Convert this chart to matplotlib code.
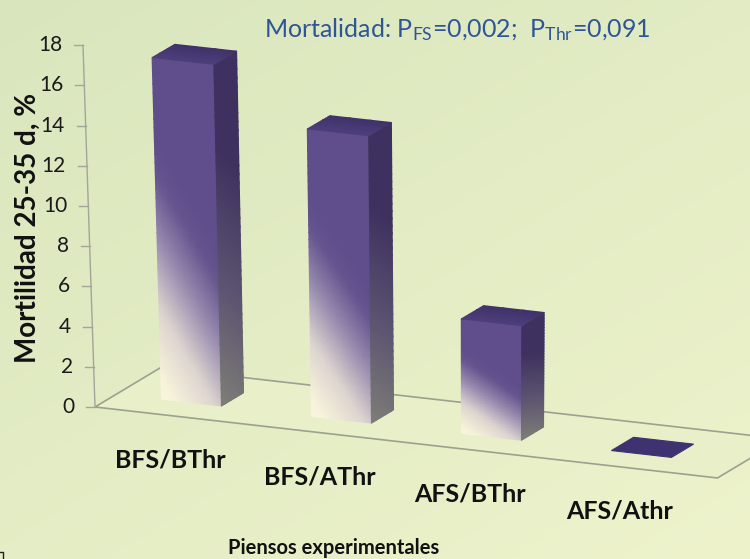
import numpy as np
import matplotlib
matplotlib.use("Agg")
import matplotlib.pyplot as plt
from matplotlib.colors import LinearSegmentedColormap, to_rgb
from matplotlib.patches import Polygon
from matplotlib.lines import Line2D

# ---- data -------------------------------------------------------------
categories = ["BFS/BThr", "BFS/AThr", "AFS/BThr", "AFS/Athr"]
mortality = [17.0, 14.3, 5.7, 0.0]
y_ticks = [0, 2, 4, 6, 8, 10, 12, 14, 16, 18]
y_tick_labels = [str(t) for t in y_ticks]
title_text = r"Mortalidad: P$\mathregular{_{FS}}$=0,002;  P$\mathregular{_{Thr}}$=0,091"
y_label = "Mortilidad 25-35 d, %"
x_label = "Piensos experimentales"

# ---- look -------------------------------------------------------------
plt.rcParams["font.family"] = ["Lato", "DejaVu Sans"]
W, H = 750, 559
fig = plt.figure(figsize=(W / 100, H / 100), dpi=100)
ax = fig.add_axes([0, 0, 1, 1])

# chart space: x in category units, y in value units
PX_CAT = 150.0      # pixels per category slot
PX_VAL = 20.1       # pixels per percentage point
X0, Y0 = 95.0, 407.0
xlim = (-X0 / PX_CAT, (W - X0) / PX_CAT)
ylim = (-(H - Y0) / PX_VAL, Y0 / PX_VAL)

DEPTH_X = 65.0 / PX_CAT     # floor depth, horizontal component
DEPTH_Y = 39.0 / PX_VAL     # floor depth, vertical component
SHEAR = 17.1 / PX_VAL       # floor falls towards the right
C_VP = 2.57                 # vanishing column for vertical convergence
KEY = 0.00173
FLOOR_C = 4.15
BAR_W = 0.4
BAR_D0, BAR_D1 = 0.33, 0.67


def proj(c, d, v):
    c = np.asarray(c, float)
    d = np.asarray(d, float)
    v = np.asarray(v, float)
    x = c + d * DEPTH_X
    y = v - SHEAR * c + d * DEPTH_Y
    x = x + (x - C_VP) * KEY * v
    return x, y


# background gradient
gx, gy = np.meshgrid(np.linspace(0, 1, 200), np.linspace(0, 1, 200))
c_tl = np.array(to_rgb("#d9e6bd"))
c_br = np.array(to_rgb("#eef3cc"))
tt = np.clip(0.55 * gy + 0.45 * gx, 0, 1)[..., None]
bg = c_tl * (1 - tt) + c_br * tt
ax.imshow(bg, extent=(xlim[0], xlim[1], ylim[0], ylim[1]), origin="upper",
          aspect="auto", zorder=0, interpolation="bilinear")

# floor outline
fc = np.array([0, FLOOR_C, FLOOR_C, 0])
fd = np.array([0, 0, 1, 1])
fx, fy = proj(fc, fd, np.zeros(4))
ax.add_patch(Polygon(np.column_stack([fx, fy]), closed=True, facecolor="#e9f0c9",
                     edgecolor="#9ca18f", lw=1.2, zorder=1))

# value axis
ax_x, ax_y = proj([0, 0], [0, 0], [0, y_ticks[-1]])
ax.add_line(Line2D(ax_x, ax_y, color="#a2a59a", lw=1.0, zorder=2))
for t, lab in zip(y_ticks, y_tick_labels):
    tx, ty = proj(0, 0, t)
    ax.add_line(Line2D([tx - 9 / PX_CAT, tx], [ty, ty], color="#a2a59a", lw=1.0, zorder=2))
    ax.text(tx - 21 / PX_CAT, ty, lab, ha="right", va="center", fontsize=15,
            color="#1a1a1a", zorder=3)

# bar colours
front_cmap = LinearSegmentedColormap.from_list(
    "front", [(0.0, "#f9f5dc"), (0.3, "#ddd5d0"), (0.6, "#9689ae"),
              (0.85, "#65548f"), (1.0, "#5f4e8b")])
side_cmap = LinearSegmentedColormap.from_list(
    "side", [(0.0, "#7d7c77"), (0.45, "#5d5571"), (1.0, "#3e305f")])
top_cmap = LinearSegmentedColormap.from_list(
    "top", [(0.0, "#4e3f7d"), (1.0, "#403269")])


def draw_face(p00, p10, p01, p11, tfunc, cmap, z, nu=10, nw=40):
    u = np.linspace(0, 1, nu)
    w = np.linspace(0, 1, nw)
    U, Wg = np.meshgrid(u, w)
    pts = [np.asarray(p, float) for p in (p00, p10, p01, p11)]
    P = ((1 - U)[..., None] * (1 - Wg)[..., None] * pts[0]
         + U[..., None] * (1 - Wg)[..., None] * pts[1]
         + (1 - U)[..., None] * Wg[..., None] * pts[2]
         + U[..., None] * Wg[..., None] * pts[3])
    X, Y = proj(P[..., 0], P[..., 1], P[..., 2])
    ax.pcolormesh(X, Y, tfunc(U, Wg), shading="gouraud", cmap=cmap,
                  vmin=0, vmax=1, zorder=z, antialiased=True)


def front_t(u, w):
    return np.clip((w + 0.3 * u - 0.05) / 0.72, 0, 1)


def side_t(u, w):
    return np.clip((w + 0.1 * u - 0.02) / 0.75, 0, 1)


def top_t(u, w):
    return w


for i, (cat, val) in enumerate(zip(categories, mortality)):
    c0, c1 = i + 0.5 - BAR_W / 2, i + 0.5 + BAR_W / 2
    z = 5 + i
    if val > 0:
        draw_face((c0, BAR_D0, 0), (c1, BAR_D0, 0), (c0, BAR_D0, val), (c1, BAR_D0, val),
                  front_t, front_cmap, z)
        draw_face((c1, BAR_D0, 0), (c1, BAR_D1, 0), (c1, BAR_D0, val), (c1, BAR_D1, val),
                  side_t, side_cmap, z)
        draw_face((c0, BAR_D0, val), (c1, BAR_D0, val), (c0, BAR_D1, val), (c1, BAR_D1, val),
                  top_t, top_cmap, z + 0.5, nu=4, nw=4)
    else:
        tx, ty = proj([c0, c1, c1, c0], [BAR_D0, BAR_D0, BAR_D1, BAR_D1], [0, 0, 0, 0])
        ax.add_patch(Polygon(np.column_stack([tx, ty]), closed=True,
                             facecolor="#3f3270", edgecolor="#3f3270", lw=0.8, zorder=z))

    # category label in front of the floor
    lx, ly = proj(i + 0.5, 0, 0)
    ax.text(lx, ly - 44 / PX_VAL, cat, ha="center", va="center", fontsize=18,
            fontweight="bold", color="#111111", zorder=10)

ax.set_xlim(*xlim)
ax.set_ylim(*ylim)
ax.axis("off")

# titles
fig.text(457 / W, 1 - 30 / H, title_text, ha="center", va="center", fontsize=18,
         color="#2f5597")
fig.text(28 / W, 1 - 228 / H, y_label, ha="center", va="center", rotation=90,
         fontsize=20, fontweight="bold", color="#111111")
fig.text(334 / W, 1 - 548 / H, x_label, ha="center", va="center", fontsize=14.5,
         fontweight="bold", color="#111111")

# small frame corner at the lower left
fig.add_artist(Line2D([0, 3 / W, 3 / W], [1 - 552 / H, 1 - 552 / H, 0],
                      transform=fig.transFigure, color="#222222", lw=1.0))

fig.savefig("out.png", dpi=100)
